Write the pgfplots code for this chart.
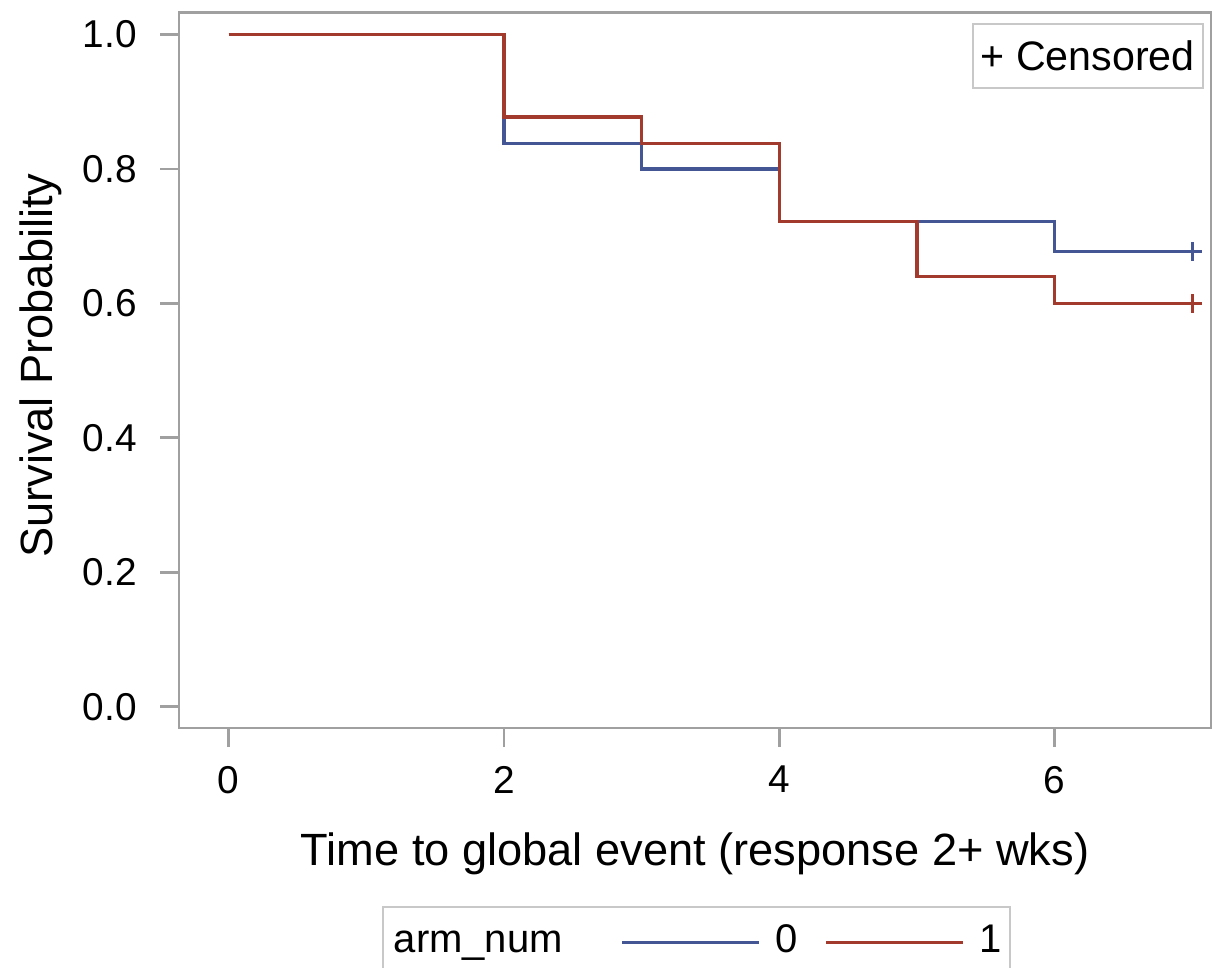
\documentclass[border=0pt]{standalone}
\usepackage{pgfplots}
\pgfplotsset{compat=1.18}
\usepackage{fontspec}
\setmainfont{Liberation Sans}
\definecolor{sasblue}{HTML}{445694}
\definecolor{sasred}{HTML}{A23A2E}
\definecolor{axisgray}{HTML}{A0A0A0}
\definecolor{leggray}{HTML}{C8C8C8}
\begin{document}
\begin{tikzpicture}
\begin{axis}[
  scale only axis,
  width=258pt, height=178.9pt,
  xmin=-0.36, xmax=7.135,
  ymin=-0.0317, ymax=1.033,
  axis line style={axisgray, line width=0.7pt},
  tick style={axisgray, line width=0.7pt},
  tick align=outside,
  major tick length=4.75pt,
  xtick={0,2,4,6},
  ytick={0,0.2,0.4,0.6,0.8,1.0},
  xtick pos=bottom, ytick pos=left,
  /pgf/number format/assume math mode=true,
  yticklabel style={/pgf/number format/fixed, /pgf/number format/fixed zerofill, /pgf/number format/precision=1, xshift=-2.3pt},
  xticklabel style={yshift=-1.25pt},
  tick label style={font=\fontsize{9.7}{12}\selectfont},
  label style={font=\fontsize{11.3}{13}\selectfont},
  xlabel={Time to global event (response 2+ wks)},
  ylabel={Survival Probability},
  xlabel style={at={(axis description cs:0.5,-0.1915)}, anchor=base},
  ylabel style={at={(axis description cs:-0.1221,0.5065)}, anchor=base},
  legend columns=-1,
  legend style={
    at={(axis description cs:0.5015,-0.2487)}, anchor=north,
    draw=leggray, line width=0.5pt,
    inner xsep=2.2pt, inner ysep=4.25pt,
    font=\fontsize{10}{12}\selectfont,
    nodes={inner sep=0pt, text height=7.2pt, text depth=2pt},
    /tikz/every odd column/.append style={column sep=3.6pt},
    /tikz/every even column/.append style={column sep=6.8pt},
  },
  legend image code/.code={\draw[#1, line width=0.8pt] (0pt,0pt) -- (34.25pt,0pt);},
]
\addlegendimage{empty legend}
\addlegendentry{\hspace*{-3pt}arm\_num\hspace*{7.7pt}}
\addplot[const plot, sasblue, line width=0.8pt] coordinates {
  (0,1) (2,0.838) (3,0.800) (4,0.722) (6,0.677) (7,0.677)
};
\addlegendentry{0}
\addplot[const plot, sasred, line width=0.8pt] coordinates {
  (0,1) (2,0.8775) (3,0.838) (4,0.722) (5,0.6395) (6,0.600) (7,0.600)
};
\addlegendentry{1}
\addplot[forget plot, only marks, mark=+, mark size=2.3pt, sasblue, mark options={line width=0.8pt}] coordinates {(7,0.677)};
\addplot[forget plot, only marks, mark=+, mark size=2.3pt, sasred, mark options={line width=0.8pt}] coordinates {(7,0.600)};
\node[draw=leggray, line width=0.5pt, minimum width=57.5pt, minimum height=16pt, inner sep=0pt,
  font=\fontsize{10.3}{12}\selectfont, anchor=center] at (rel axis cs:0.8805,0.939) {+ Censored};
\end{axis}
\pgfresetboundingbox
\path[use as bounding box] (-44.75pt,-59.75pt) rectangle (258.25pt,182pt);
\end{tikzpicture}
\end{document}
